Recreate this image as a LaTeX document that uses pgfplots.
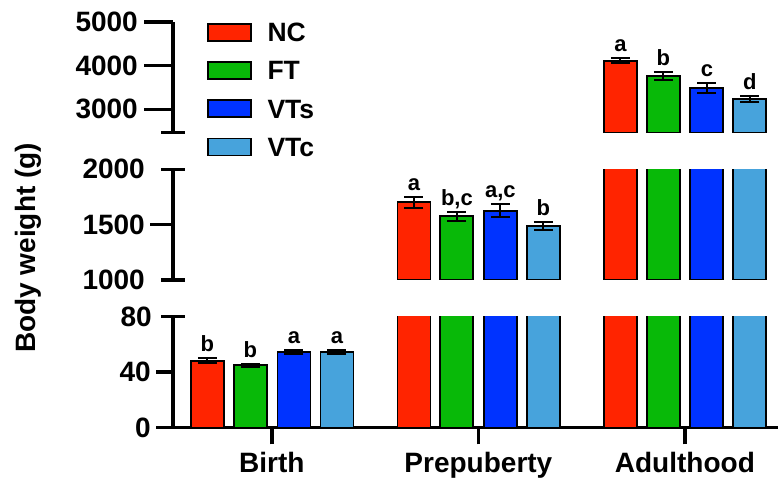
\documentclass[border=0pt]{standalone}
\usepackage{fontspec}
\setmainfont{Liberation Sans}
\usepackage{pgfplots}
\usepackage{pgfplotstable}
\pgfplotsset{compat=1.18}
\definecolor{cNC}{RGB}{255,36,0}
\definecolor{cFT}{RGB}{8,185,8}
\definecolor{cVTs}{RGB}{0,51,255}
\definecolor{cVTc}{RGB}{71,163,220}

\pgfplotstableread{
x NC   NCe FT   FTe VTs  VTse VTc  VTce
0 48.1 1.7 44.8 1.3 54.6 1.6  54.2 1.5
1 1702 51  1575 42  1626 58   1488 40
2 4115 62  3764 99  3481 115  3236 76
}\data

\pgfplotsset{
  seg/.style={scale only axis, width=605pt, xmin=-0.479, xmax=2.451,
    axis y line*=left,
    axis line style={line width=3.3pt, black},
    tick style={line width=3.3pt, black},
    tick align=outside,
    /pgf/number format/assume math mode=true,
    /pgf/number format/set thousands separator={},
    yticklabel style={font=\fontsize{28}{28}\selectfont\bfseries, inner sep=0pt},
    xticklabel style={font=\fontsize{28}{28}\selectfont\bfseries, inner sep=0pt},
  },
  mybar/.style={ybar, bar width=33pt, bar shift=0pt,
    legend image code/.code={\draw[##1, draw=black, line width=1.8pt] (0pt,-8.5pt) rectangle (43pt,8.5pt);}},
  myerr/.style={error bars/.cd, y dir=both, y explicit,
    error bar style={line width=2pt, black},
    error mark options={rotate=90, mark size=9.5pt, line width=2pt, black}},
}
\newcommand\bars{%
  \addplot[mybar, fill=cNC, draw=black, line width=1.8pt, myerr] table[x expr=\thisrow{x}-0.31235, y=NC, y error=NCe]{\data};
  \addplot[mybar, fill=cFT, draw=black, line width=1.8pt, myerr] table[x expr=\thisrow{x}-0.10412, y=FT, y error=FTe]{\data};
  \addplot[mybar, fill=cVTs, draw=black, line width=1.8pt, myerr] table[x expr=\thisrow{x}+0.10654, y=VTs, y error=VTse]{\data};
  \addplot[mybar, fill=cVTc, draw=black, line width=1.8pt, myerr] table[x expr=\thisrow{x}+0.31477, y=VTc, y error=VTce]{\data};
}
\newcommand\lett[4]{\node[anchor=base, inner sep=0pt, font=\fontsize{22}{22}\selectfont\bfseries] at ([xshift=#1pt, yshift=6.5pt]axis cs:#2,#3) {#4};}

\begin{document}
\begin{tikzpicture}
\path[use as bounding box] (0,0) rectangle (778pt,479pt);
% bottom segment
\begin{axis}[seg, at={(173pt,51.5pt)}, anchor=south west, height=111pt,
  ymin=0, ymax=80, ytick={0,40}, major tick length=17pt,
  axis x line*=bottom,
  xtick={0,1,2}, xticklabels={Birth,Prepuberty,Adulthood},
  xticklabel style={yshift=-8pt},
  yticklabel style={xshift=-5pt},
  extra y ticks={80},
  extra y tick style={tick align=center, major tick length=24pt, yticklabel style={xshift=-4pt}},
]
\bars
\lett{-64.5}{0}{49.8}{b}
\lett{-21.5}{0}{46.1}{b}
\lett{22}{0}{56.2}{a}
\lett{65}{0}{55.7}{a}
\end{axis}
% middle segment
\begin{axis}[seg, at={(173pt,199pt)}, anchor=south west, height=110.7pt,
  ymin=1000, ymax=2000, ytick={1500}, major tick length=23pt,
  axis x line=none, xtick=\empty,
  restrict x to domain=0.5:2.5,
  yticklabel style={xshift=-5pt},
  extra y ticks={1000,2000},
  extra y tick style={tick align=center, major tick length=24pt, yticklabel style={xshift=-11pt}},
]
\bars
\lett{-64.5}{1}{1753}{a}
\lett{-21.5}{1}{1617}{b,c}
\lett{22}{1}{1684}{a,c}
\lett{65}{1}{1528}{b}
\end{axis}
% top segment
\begin{axis}[seg, at={(173pt,346.3pt)}, anchor=south west, height=110.7pt,
  ymin=2464, ymax=5000, ytick={3000,4000,5000}, major tick length=29pt,
  axis x line=none, xtick=\empty,
  restrict x to domain=1.5:2.5,
  yticklabel style={xshift=-6pt},
  extra y ticks={2464}, extra y tick labels={},
  extra y tick style={tick align=center, major tick length=24pt},
  legend style={at={(0,1)}, anchor=north west, xshift=33.7pt, yshift=-0.7pt,
    draw=none, fill=none, inner sep=0pt, outer sep=0pt,
    row sep=19.3pt, column sep=16pt,
    font=\fontsize{26.5}{26.5}\selectfont\bfseries,
    nodes={inner sep=0pt, text height=19pt, text depth=0pt}},
  legend cell align=left,
]
\bars
\lett{-64.5}{2}{4177}{a}
\lett{-21.5}{2}{3863}{b}
\lett{22}{2}{3596}{c}
\lett{65}{2}{3312}{d}
\legend{NC,FT,VTs,VTc}
\end{axis}
\node[rotate=90, font=\fontsize{28}{28}\selectfont\bfseries, inner sep=0pt] at (28pt,231pt) {Body weight (g)};
\end{tikzpicture}
\end{document}
